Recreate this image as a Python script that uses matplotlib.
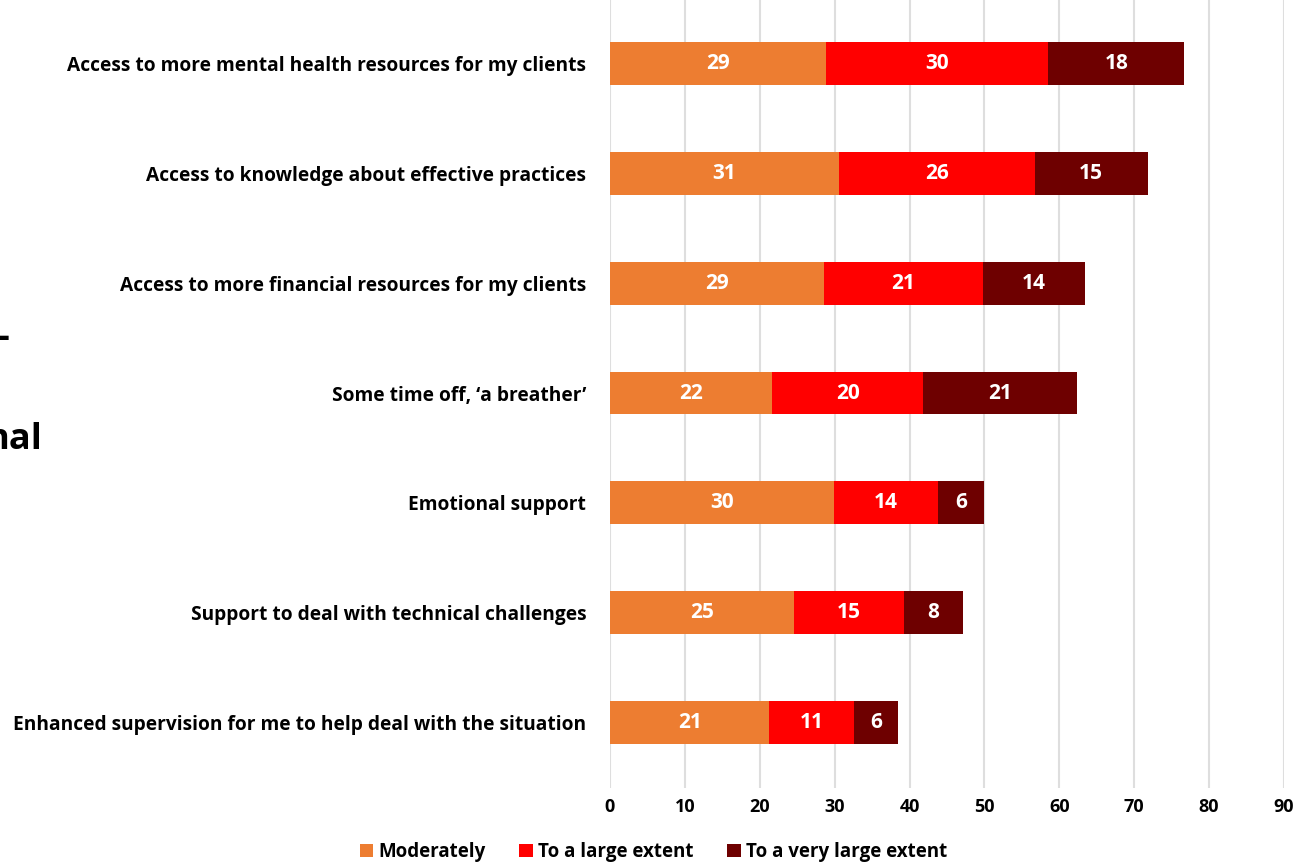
import matplotlib.pyplot as plt
import numpy as np

# Colours used in the chart
ORANGE = '#ED7D31'
RED = '#FF0000'
DARK_RED = '#6E0000'
GRID = '#DEDEDE'

# Categories, top to bottom
categories = [
    "Access to more mental health resources for my clients",
    "Access to knowledge about effective practices",
    "Access to more financial resources for my clients",
    "Some time off, \u2018a breather\u2019",
    "Emotional support",
    "Support to deal with technical challenges",
    "Enhanced supervision for me to help deal with the situation",
]

# Segment values
moderately = [28.8, 30.6, 28.6, 21.7, 29.9, 24.6, 21.3]
large_extent = [29.7, 26.1, 21.2, 20.1, 13.9, 14.6, 11.3]
very_large_extent = [18.2, 15.1, 13.6, 20.6, 6.1, 7.9, 5.8]

series_names = ["Moderately", "To a large extent", "To a very large extent"]
colors = [ORANGE, RED, DARK_RED]
x_ticks = np.arange(0, 100, 10)

FONT = 'Open Sans'

fig = plt.figure(figsize=(13.07, 8.63), dpi=100)
ax = fig.add_axes([0.4667, 0.0869, 0.5157, 0.9154])

y = np.arange(len(categories))
left = np.zeros(len(categories))
for vals, color, name in zip([moderately, large_extent, very_large_extent], colors, series_names):
    vals = np.array(vals)
    ax.barh(y, vals, left=left, height=0.39, color=color, label=name, zorder=3)
    for yi, l, v in zip(y, left, vals):
        ax.text(l + v / 2, yi, f"{v:.0f}", ha='center', va='center', color='white',
                fontsize=15, fontweight='bold', family=FONT, zorder=4)
    left += vals

ax.set_ylim(len(categories) - 0.4, -0.6)
ax.set_xlim(0, 90)
ax.set_yticks(y)
ax.set_yticklabels(categories, fontsize=13.8, fontweight='bold', family=FONT)
ax.set_xticks(x_ticks)
ax.set_xticklabels([str(t) for t in x_ticks], fontsize=13, fontweight='bold', family=FONT)
ax.tick_params(axis='y', length=0, pad=17)
ax.tick_params(axis='x', length=0, pad=7)

ax.grid(True, axis='x', color=GRID, linewidth=1.5, zorder=0)
for s in ax.spines.values():
    s.set_visible(False)

fig.legend(loc='lower center', bbox_to_anchor=(0.5, -0.018), ncol=3, frameon=False,
           handlelength=0.7, handleheight=0.7, handletextpad=0.3, columnspacing=1.8,
           prop={'family': FONT, 'weight': 'bold', 'size': 13.5})

# Cropped fragments of neighbouring text on the left edge
fig.text(-0.002, 1 - 338 / 863, "-", fontsize=26, fontweight='bold', family=FONT,
         ha='left', va='center')
fig.text(42 / 1307, 1 - 440 / 863, "nal", fontsize=26, fontweight='bold', family=FONT,
         ha='right', va='center')

fig.savefig("out.png", dpi=100)
